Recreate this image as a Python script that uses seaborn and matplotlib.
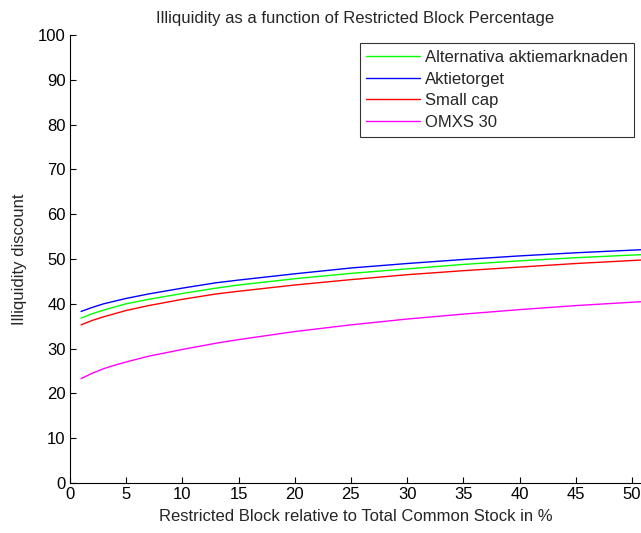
import pandas as pd
import matplotlib.pyplot as plt
import seaborn as sns

# Restricted block size (% of total common stock)
block_pct = [1, 2, 3, 4, 5, 7, 10, 13, 15, 20, 25, 30, 35, 40, 45, 51]

# Illiquidity discount per market
alternativa = [36.8, 37.8, 38.6, 39.3, 40.0, 41.0, 42.3, 43.5, 44.2, 45.6, 46.8, 47.8, 48.8, 49.6, 50.3, 51.0]
aktietorget = [38.3, 39.2, 40.0, 40.6, 41.2, 42.2, 43.5, 44.7, 45.3, 46.7, 48.0, 49.0, 49.9, 50.7, 51.4, 52.1]
small_cap = [35.3, 36.3, 37.1, 37.8, 38.5, 39.6, 41.0, 42.2, 42.8, 44.2, 45.4, 46.5, 47.4, 48.2, 49.0, 49.8]
omxs30 = [23.3, 24.5, 25.5, 26.3, 27.0, 28.3, 29.8, 31.2, 32.0, 33.8, 35.3, 36.6, 37.7, 38.7, 39.6, 40.5]

series = {
    "Alternativa aktiemarknaden": alternativa,
    "Aktietorget": aktietorget,
    "Small cap": small_cap,
    "OMXS 30": omxs30,
}
palette = {
    "Alternativa aktiemarknaden": "#00ff00",
    "Aktietorget": "#0000ff",
    "Small cap": "#ff0000",
    "OMXS 30": "#ff00ff",
}

rows = []
for name, vals in series.items():
    for x, y in zip(block_pct, vals):
        rows.append({"block": x, "discount": y, "market": name})
df = pd.DataFrame(rows)

sns.set_style("ticks")
plt.rcParams["font.family"] = ["Liberation Sans", "DejaVu Sans"]
plt.rcParams["xtick.direction"] = "in"
plt.rcParams["ytick.direction"] = "in"

fig = plt.figure(figsize=(6.41, 5.33), dpi=100)
ax = fig.add_axes([0.109, 0.094, 0.891, 0.840])

sns.lineplot(data=df, x="block", y="discount", hue="market", palette=palette,
             hue_order=list(series.keys()), linewidth=1.0, ax=ax)

ax.set_xlim(0, 50.8)
ax.set_ylim(0, 100)
ax.set_xticks(range(0, 51, 5))
ax.set_yticks(range(0, 101, 10))
ax.tick_params(axis="both", labelsize=12, length=4, width=0.8, colors="black", pad=3)
for s in ["left", "bottom"]:
    ax.spines[s].set_linewidth(0.8)
    ax.spines[s].set_color("black")
sns.despine(ax=ax)

ax.set_title("Illiquidity as a function of Restricted Block Percentage", fontsize=12, pad=9)
ax.set_xlabel("Restricted Block relative to Total Common Stock in %", fontsize=12, labelpad=5)
ax.set_ylabel("Illiquidity discount", fontsize=12, labelpad=8)

leg = ax.legend(loc="upper right", bbox_to_anchor=(0.988, 0.982), fontsize=12, frameon=True,
                fancybox=False, edgecolor="black", handlelength=3.2, handletextpad=0.3,
                labelspacing=0.4, borderpad=0.4, borderaxespad=0)
leg.get_frame().set_linewidth(0.8)

fig.savefig("out.png", dpi=100, facecolor="white")
